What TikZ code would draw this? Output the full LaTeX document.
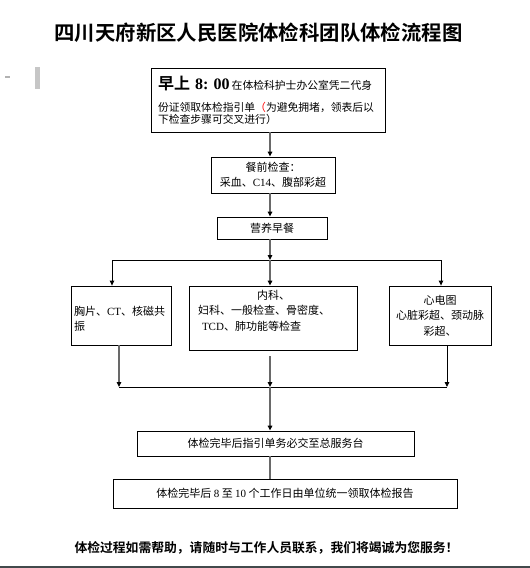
\documentclass[tikz,border=0pt]{standalone}
\usepackage{fontspec}
\setmainfont{Noto Sans CJK SC}[BoldFont={Noto Sans CJK SC Bold}]
\newfontfamily\lat{Liberation Serif}
\usepackage{tikz}
\usetikzlibrary{calc}
\usetikzlibrary{arrows.meta}
\definecolor{wire}{RGB}{105,105,105}
\definecolor{band}{RGB}{66,74,76}
\AtBeginDocument{\lineskiplimit=-20pt\relax}

\begin{document}
\begin{tikzpicture}[x=1pt,y=-1pt]
    \tikzstyle{box}=[draw=black,line width=0.8pt,inner sep=3pt,font=\fontsize{11}{15.5}\selectfont]
    \tikzstyle{flow}=[-{Triangle[length=5pt,width=4.5pt,color=black]},line width=1.4pt,color=wire]
    \tikzstyle{drop}=[-{Triangle[length=5pt,width=4.5pt,color=black]},line width=0.9pt,color=black]
    \tikzstyle{spine}=[line width=1.4pt,color=wire]
    \tikzstyle{rail}=[line width=0.9pt,color=black]
    \tikzstyle{title}=[font=\fontsize{20.4}{22}\selectfont\bfseries]
    \tikzstyle{note}=[font=\fontsize{12.8}{14}\selectfont\bfseries]

    \useasboundingbox (0,0) rectangle (530,568);

    % Window marks
    \fill[gray!45] (35,67) rectangle (40,89);
    \fill[gray!60] (5,76) rectangle (10,78);
    \fill[band] (0,565.5) rectangle (530,568);

    % Title
    \node[style=title] (title) at (258.5,33) {四川天府新区人民医院体检科团队体检流程图};

    % Boxes
    \node[style=box,minimum width=234pt,minimum height=64pt,text width=220pt,inner xsep=7pt,align=left,
          font=\fontsize{10.8}{11.2}\selectfont] (start) at (268,100)
        {{\fontsize{16}{16}\selectfont\bfseries 早上\hspace{5pt}{\lat 8: 00}}\hspace{2pt}在体检科护士办公室凭二代身\\[11.5pt]
         份证领取体检指引单{\color{red}（}为避免拥堵，领表后以\\
         下检查步骤可交叉进行）};
    \node[style=box,minimum width=124pt,minimum height=36pt,align=center] (pre) at (273,175)
        {餐前检查：\\采血、{\lat C14}、腹部彩超};
    \node[style=box,minimum width=110pt,minimum height=22pt] (meal) at (272,228) {营养早餐};

    \node[style=box,minimum width=100pt,minimum height=59pt,text width=94pt,align=left] (left) at (121,315.5)
        {\mbox{}\\胸片、{\lat CT}、核磁共\\振};
    \node[style=box,minimum width=168pt,minimum height=64pt,text width=150pt,inner xsep=9pt,align=left] (mid) at (273,318)
        {\hspace*{59pt}内科、\\妇科、一般检查、骨密度、\\\hspace*{4pt}{\lat TCD}、肺功能等检查\\ \mbox{}};
    \node[style=box,minimum width=102pt,minimum height=59pt,align=center] (right) at (440,315.5)
        {心电图\\心脏彩超、颈动脉\\彩超、};

    \node[style=box,minimum width=277pt,minimum height=25pt] (desk) at (275.5,443.5) {体检完毕后指引单务必交至总服务台};
    \node[style=box,minimum width=344pt,minimum height=29pt] (report) at (285,493.5)
        {体检完毕后 {\lat 8} 至 {\lat 10} 个工作日由单位统一领取体检报告};

    % Footer
    \node[style=note] (note) at (266.5,548) {体检过程如需帮助，请随时与工作人员联系，我们将竭诚为您服务！};

    % Junctions
    \coordinate (fork) at (270,260);
    \coordinate (fork-l) at (112,260);
    \coordinate (fork-r) at (441,260);
    \coordinate (join) at (270,387);
    \coordinate (join-l) at (119,387);
    \coordinate (join-r) at (447,387);

    % Top
    \draw[style=flow] (start.south -| fork) -- (pre.north -| fork);
    \draw[style=flow] (pre.south -| fork) -- (meal.north -| fork);
    \draw[style=flow] (meal.south -| fork) -- (fork);

    % Split
    \draw[style=rail] (fork-l) -- (fork-r);
    \draw[style=drop] (fork-l) -- (left.north -| fork-l);
    \draw[style=flow] (fork) -- (mid.north -| fork);
    \draw[style=drop] (fork-r) -- (right.north -| fork-r);

    % Merge
    \draw[style=flow] (left.south -| join-l) -- (join-l);
    \draw[style=flow] ($(mid.south -| join)+(0,6)$) -- (join);
    \draw[style=drop] (right.south -| join-r) -- (join-r);
    \draw[style=rail] (join-l) -- (join-r);

    % Bottom
    \draw[style=flow] (join) -- (desk.north -| join);
    \draw[style=spine] (desk.south -| join) -- (report.north -| join);

\end{tikzpicture}
\end{document}
